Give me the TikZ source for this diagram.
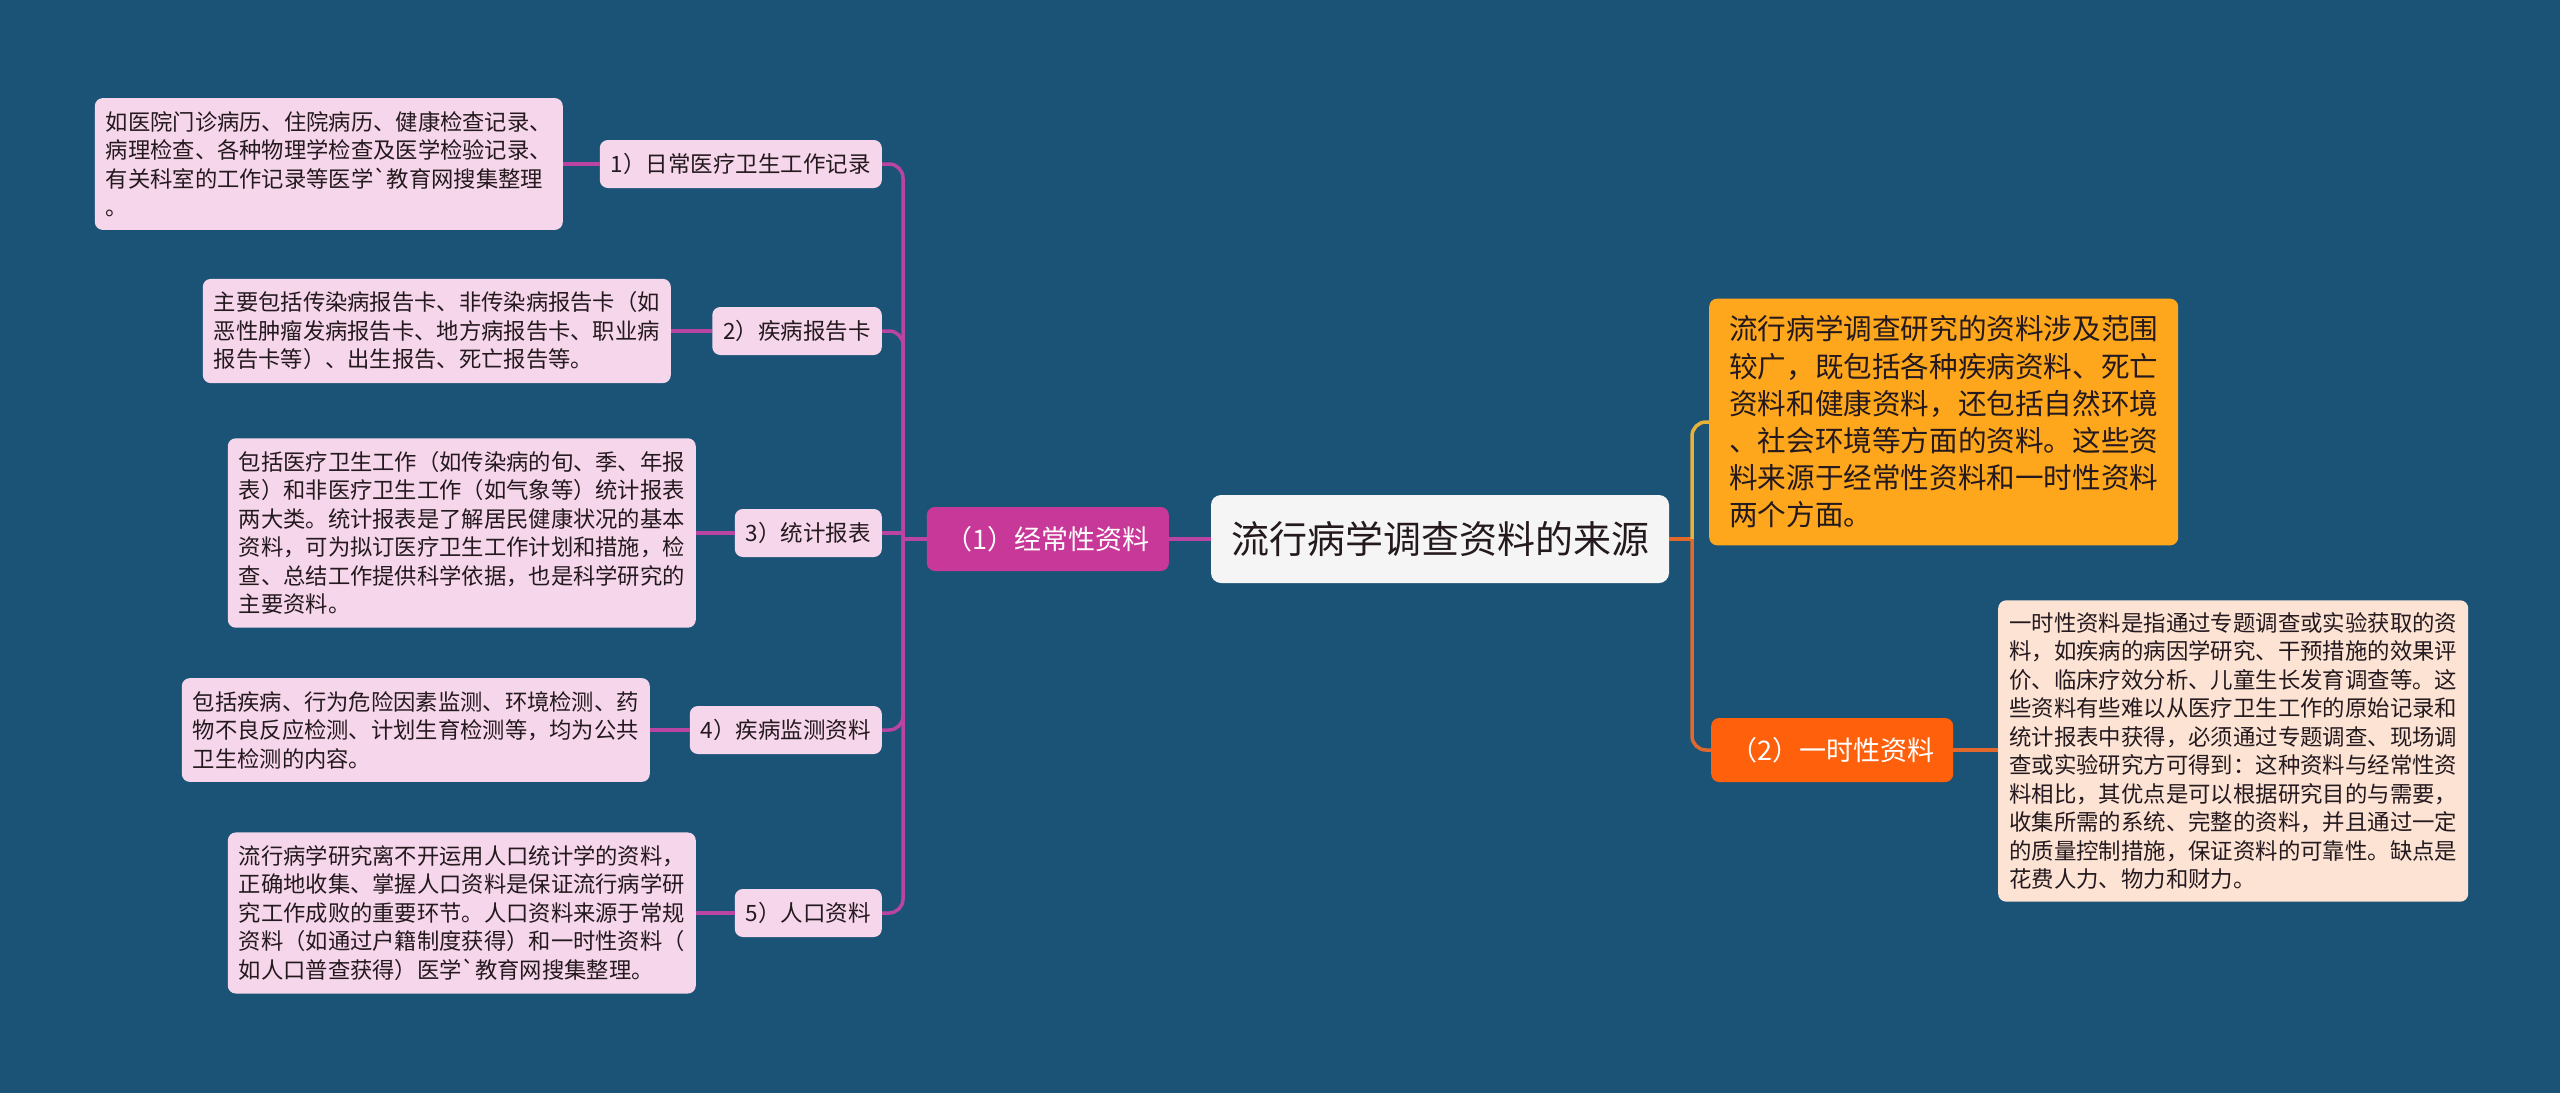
\documentclass[tikz,border=0pt]{standalone}
\usepackage{fontspec}
\setmainfont{Noto Sans CJK SC}

\definecolor{bgblue}{RGB}{27,83,119}
\definecolor{rootfill}{RGB}{245,245,245}
\definecolor{magentafill}{RGB}{199,56,152}
\definecolor{magentaline}{RGB}{186,68,162}
\definecolor{pinkfill}{RGB}{246,214,234}
\definecolor{orangefill}{RGB}{254,166,28}
\definecolor{orangeline}{RGB}{232,178,58}
\definecolor{redfill}{RGB}{255,96,12}
\definecolor{redline}{RGB}{226,104,44}
\definecolor{peachfill}{RGB}{253,227,212}
\definecolor{darktext}{RGB}{35,25,30}

\begin{document}
\begin{tikzpicture}[x=1pt,y=-1pt,
  box/.style={rounded corners=8pt, inner xsep=11pt, inner ysep=10pt, align=left},
  rootbox/.style={box, fill=rootfill, text=darktext, font=\fontsize{38}{44}\selectfont,
    inner xsep=20pt, minimum height=88pt, rounded corners=10pt},
  mainbox/.style={box, text=white, font=\fontsize{27}{32}\selectfont, inner xsep=19pt, minimum height=64pt},
  subbox/.style={box, fill=pinkfill, text=darktext, font=\fontsize{22.5}{28.5}\selectfont, minimum height=48pt},
  descbox/.style={box, fill=pinkfill, text=darktext, font=\fontsize{22.3}{28.5}\selectfont, inner ysep=13pt},
  mline/.style={draw=magentaline, line width=3.5pt},
  oline/.style={draw=orangeline, line width=3.5pt},
  rline/.style={draw=redline, line width=3.5pt}]
  \fill[bgblue] (0,0) rectangle (2560,1093);
  \useasboundingbox (0,0) rectangle (2560,1093);

  \node[rootbox] (root) at (1440,539) {流行病学调查资料的来源};
  \node[mainbox, fill=magentafill, anchor=east] (k1) at (1169,539) {（1）经常性资料};
  \node[mainbox, fill=redfill, anchor=west] (k2) at (1711,750) {（2）一时性资料};

  \node[box, fill=orangefill, text=darktext, font=\fontsize{28.6}{37.2}\selectfont,
    inner xsep=20pt, inner ysep=17pt, anchor=west] (info) at (1709,422)
    {流行病学调查研究的资料涉及范围\\较广，既包括各种疾病资料、死亡\\资料和健康资料，还包括自然环境\\、社会环境等方面的资料。这些资\\料来源于经常性资料和一时性资料\\两个方面。};
  \node[box, fill=peachfill, text=darktext, font=\fontsize{22.4}{28.5}\selectfont,
    inner ysep=12pt, anchor=west] (extra) at (1998,751)
    {一时性资料是指通过专题调查或实验获取的资\\料，如疾病的病因学研究、干预措施的效果评\\价、临床疗效分析、儿童生长发育调查等。这\\些资料有些难以从医疗卫生工作的原始记录和\\统计报表中获得，必须通过专题调查、现场调\\查或实验研究方可得到：这种资料与经常性资\\料相比，其优点是可以根据研究目的与需要，\\收集所需的系统、完整的资料，并且通过一定\\的质量控制措施，保证资料的可靠性。缺点是\\花费人力、物力和财力。};

  \node[subbox, anchor=east] (s1) at (882,164) {1）日常医疗卫生工作记录};
  \node[subbox, anchor=east] (s2) at (882,331) {2）疾病报告卡};
  \node[subbox, anchor=east] (s3) at (882,533) {3）统计报表};
  \node[subbox, anchor=east] (s4) at (882,730) {4）疾病监测资料};
  \node[subbox, anchor=east] (s5) at (882,913) {5）人口资料};

  \node[descbox, anchor=east] (d1) at (563,164)
    {如医院门诊病历、住院病历、健康检查记录、\\病理检查、各种物理学检查及医学检验记录、\\有关科室的工作记录等医学\textasciigrave 教育网搜集整理\\。};
  \node[descbox, anchor=east] (d2) at (671,331)
    {主要包括传染病报告卡、非传染病报告卡（如\\恶性肿瘤发病报告卡、地方病报告卡、职业病\\报告卡等）、出生报告、死亡报告等。};
  \node[descbox, anchor=east] (d3) at (696,533)
    {包括医疗卫生工作（如传染病的旬、季、年报\\表）和非医疗卫生工作（如气象等）统计报表\\两大类。统计报表是了解居民健康状况的基本\\资料，可为拟订医疗卫生工作计划和措施，检\\查、总结工作提供科学依据，也是科学研究的\\主要资料。};
  \node[descbox, anchor=east] (d4) at (650,730)
    {包括疾病、行为危险因素监测、环境检测、药\\物不良反应检测、计划生育检测等，均为公共\\卫生检测的内容。};
  \node[descbox, anchor=east] (d5) at (696,913)
    {流行病学研究离不开运用人口统计学的资料，\\正确地收集、掌握人口资料是保证流行病学研\\究工作成败的重要环节。人口资料来源于常规\\资料（如通过户籍制度获得）和一时性资料（\\如人口普查获得）医学\textasciigrave 教育网搜集整理。};

  \coordinate (lhub) at (903,539);
  \coordinate (rhub) at (1692,539);

  \draw[mline] (root.west) -- (k1.east);
  \draw[mline] (k1.west) -- (lhub);
  \draw[mline, rounded corners=14pt] (lhub) |- (s1.east);
  \draw[mline, rounded corners=14pt] (lhub) |- (s2.east);
  \draw[mline] (s3.east) -- (s3.east -| lhub);
  \draw[mline, rounded corners=14pt] (lhub) |- (s4.east);
  \draw[mline, rounded corners=14pt] (lhub) |- (s5.east);
  \draw[mline] (s1.west) -- (s1.west -| d1.east);
  \draw[mline] (s2.west) -- (s2.west -| d2.east);
  \draw[mline] (s3.west) -- (s3.west -| d3.east);
  \draw[mline] (s4.west) -- (s4.west -| d4.east);
  \draw[mline] (s5.west) -- (s5.west -| d5.east);

  \draw[rline] (root.east) -- (rhub);
  \draw[oline, rounded corners=14pt] (rhub) |- (info.west);
  \draw[rline, rounded corners=14pt] (rhub) |- (k2.west);
  \draw[rline] (k2.east) -- (k2.east -| extra.west);
\end{tikzpicture}
\end{document}
